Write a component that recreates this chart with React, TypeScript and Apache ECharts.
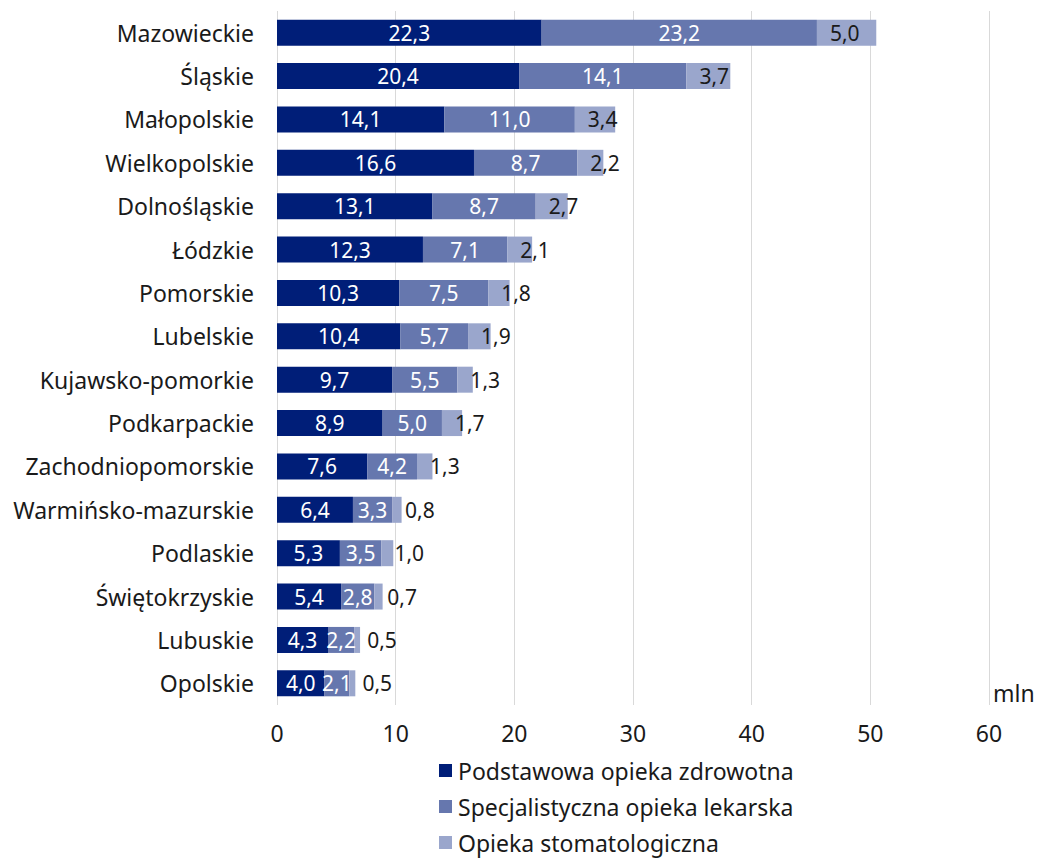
import React, { useEffect, useRef } from "react";
import * as echarts from "echarts";

const categories = [
  "Mazowieckie", "Śląskie", "Małopolskie", "Wielkopolskie", "Dolnośląskie", "Łódzkie",
  "Pomorskie", "Lubelskie", "Kujawsko-pomorkie", "Podkarpackie", "Zachodniopomorskie",
  "Warmińsko-mazurskie", "Podlaskie", "Świętokrzyskie", "Lubuskie", "Opolskie",
];
const podstawowa = [22.3, 20.4, 14.1, 16.6, 13.1, 12.3, 10.3, 10.4, 9.7, 8.9, 7.6, 6.4, 5.3, 5.4, 4.3, 4.0];
const specjalistyczna = [23.2, 14.1, 11.0, 8.7, 8.7, 7.1, 7.5, 5.7, 5.5, 5.0, 4.2, 3.3, 3.5, 2.8, 2.2, 2.1];
const stomatologiczna = [5.0, 3.7, 3.4, 2.2, 2.7, 2.1, 1.8, 1.9, 1.3, 1.7, 1.3, 0.8, 1.0, 0.7, 0.5, 0.5];
const seriesNames = ["Podstawowa opieka zdrowotna", "Specjalistyczna opieka lekarska", "Opieka stomatologiczna"];
const xTicks = [0, 10, 20, 30, 40, 50, 60];

const FONT = "'Noto Sans', sans-serif";
const fmt = (v: number) => v.toFixed(1).replace(".", ",");

export default function App() {
  const ref = useRef<HTMLDivElement>(null);
  useEffect(() => {
    document.body.style.margin = "0";
    const chart = echarts.init(ref.current!, null, { renderer: "svg" });
    const colors = ["#001E78", "#6677AE", "#9AA6CC"];
    const mk = (name: string, data: number[], i: number) => ({
      name,
      type: "bar",
      stack: "total",
      data,
      barWidth: 26,
      itemStyle: { color: colors[i] },
      label: {
        show: true,
        position: i === 2 ? "insideLeft" : "inside",
        distance: 13,
        color: i === 2 ? "#1a1a1a" : "#ffffff",
        fontFamily: FONT,
        fontSize: 21,
        formatter: (p: any) => fmt(p.value),
      },
    });
    chart.setOption({
      animation: false,
      textStyle: { fontFamily: FONT },
      grid: { left: 277, right: 60, top: 11, bottom: 154, containLabel: false },
      xAxis: {
        type: "value",
        min: xTicks[0],
        max: xTicks[xTicks.length - 1],
        interval: 10,
        axisLine: { show: false },
        axisTick: { show: false },
        splitLine: { lineStyle: { color: "#d9d9d9", width: 1 } },
        axisLabel: { color: "#1a1a1a", fontSize: 23, fontFamily: FONT, margin: 16 },
      },
      yAxis: {
        type: "category",
        data: categories,
        inverse: true,
        axisLine: { show: false },
        axisTick: { show: false },
        axisLabel: { color: "#1a1a1a", fontSize: 23, fontFamily: FONT, margin: 23 },
      },
      legend: {
        orient: "vertical",
        left: 439,
        top: 759,
        padding: 0,
        itemWidth: 13,
        itemHeight: 13,
        itemGap: 13,
        icon: "rect",
        textStyle: { color: "#1a1a1a", fontSize: 23, lineHeight: 23, fontFamily: FONT, padding: [0, 0, 0, 1] },
        data: seriesNames,
      },
      graphic: [
        {
          type: "text",
          left: 993,
          top: 681,
          style: { text: "mln", fill: "#1a1a1a", fontSize: 23, fontFamily: FONT },
        },
      ],
      series: [
        mk(seriesNames[0], podstawowa, 0),
        mk(seriesNames[1], specjalistyczna, 1),
        mk(seriesNames[2], stomatologiczna, 2),
      ],
    });
    return () => chart.dispose();
  }, []);
  return <div ref={ref} style={{ width: 1049, height: 859 }} />;
}
